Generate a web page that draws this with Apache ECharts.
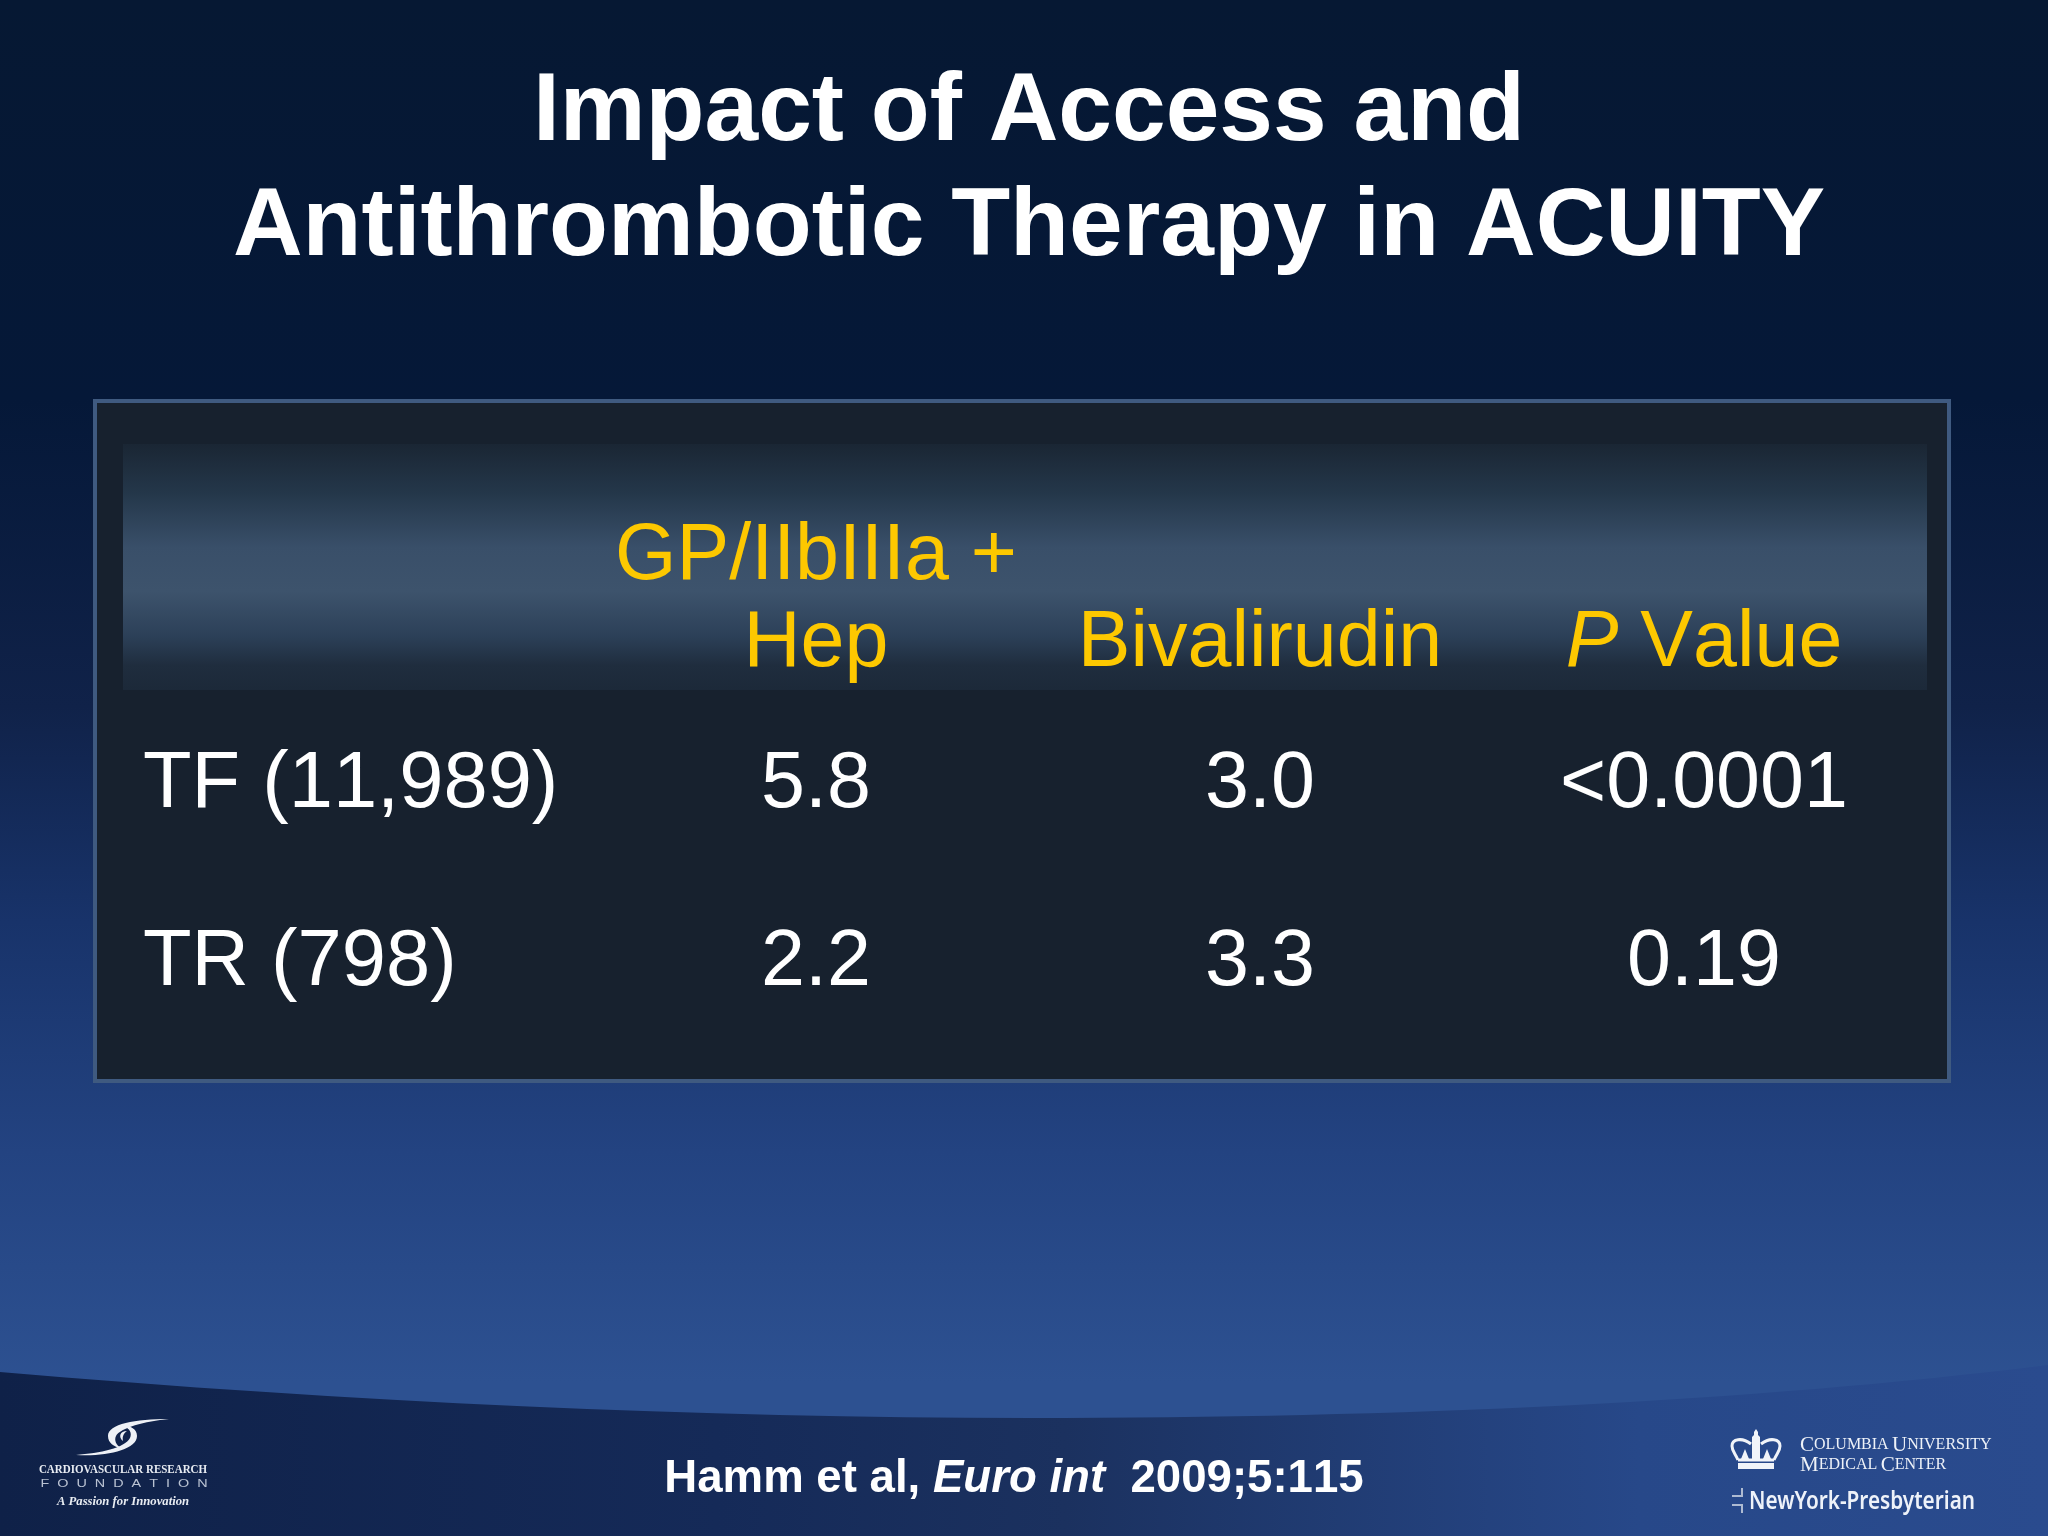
<!DOCTYPE html>
<html>
<head>
<meta charset="utf-8">
<script src="https://cdn.jsdelivr.net/npm/echarts@6/dist/echarts.min.js"></script>
<style>html,body{margin:0;padding:0;background:#061833}#chart{width:2048px;height:1536px}</style>
</head>
<body>
<div id="chart"></div>
<script>
// table contents
const titleText = 'Impact of Access and\nAntithrombotic Therapy in ACUITY';
const columns = ['GP/IIbIIIa +\nHep', 'Bivalirudin', '{i|P} {n|V}{n|alue}'];
const rows = ['TR (798)', 'TF (11,989)'];
const gpHep = ['2.2', '5.8'];
const bivalirudin = ['3.3', '3.0'];
const pValue = ['0.19', '<0.0001'];

const SANS = '"Liberation Sans", Arial, sans-serif';
const SERIF = '"Liberation Serif", serif';
const YELLOW = '#fdc800';
const lin = (stops, x2 = 0, y2 = 1) => new echarts.graphic.LinearGradient(0, 0, x2, y2,
  stops.map(([offset, color]) => ({ offset, color })));

const cellData = [gpHep, bivalirudin, pValue].flatMap((col, x) => col.map((v, y) => [x, y, v]));

// the graphic component has no path type, so register each outline as a shape
let shapeCount = 0;
const pathEl = (d, style, z = 5) => {
  const name = 'decor' + shapeCount++;
  echarts.graphic.registerShape(name, echarts.graphic.extendPath(d, {}));
  return { type: name, silent: true, z, style };
};

const smallCaps = (x, y, parts) => ({
  type: 'text', silent: true, z: 5,
  style: {
    x, y, fill: '#eef2f8', textVerticalAlign: 'middle',
    text: parts,
    rich: {
      c: { font: '21px ' + SERIF, fill: '#eef2f8' },
      s: { font: '16px ' + SERIF, fill: '#eef2f8' }
    }
  }
});
const logoText = (text, x, y, font, fill = '#e8ecf2', align = 'center', scaleX = 1) => ({
  type: 'text', silent: true, z: 5, x, y, scaleX,
  style: { text, x: 0, y: 0, font, fill, textAlign: align, textVerticalAlign: 'middle' }
});

const chart = echarts.init(document.getElementById('chart'), null, { renderer: 'canvas' });
chart.setOption({
  animation: false,
  backgroundColor: lin([[0, '#061833'], [0.26, '#051838'], [0.46, '#102249'], [0.6, '#18336a'], [0.75, '#234381'], [0.9, '#2d5191'], [1, '#2d5191']]),
  title: {
    text: titleText, left: 1024, top: 51, textAlign: 'center',
    textStyle: { color: '#fff', fontFamily: SANS, fontWeight: 'bold', fontSize: 96.5, lineHeight: 115 }
  },
  grid: { left: 594, width: 1332, top: 696, height: 356 },
  xAxis: {
    type: 'category', position: 'top', data: columns,
    axisLine: { show: false }, axisTick: { show: false }, splitLine: { show: false },
    axisLabel: {
      color: YELLOW, fontFamily: SANS, fontSize: 79, lineHeight: 87, margin: 8, interval: 0,
      rich: {
        i: { fontStyle: 'italic', color: YELLOW, fontFamily: SANS, fontSize: 79 },
        n: { color: YELLOW, fontFamily: SANS, fontSize: 79 }
      }
    }
  },
  yAxis: {
    type: 'category', data: rows,
    axisLine: { show: false }, axisTick: { show: false }, splitLine: { show: false },
    axisLabel: {
      color: '#fff', fontFamily: SANS, fontSize: 79.5, align: 'left', margin: 451,
      // the reference does not kern the two ones
      formatter: (v) => '{n|' + v.replace('11', '1}{n|1') + '}',
      rich: { n: { color: '#fff', fontFamily: SANS, fontSize: 79.5 } }
    }
  },
  series: [{
    type: 'scatter', data: cellData, symbolSize: 0, z: 10,
    encode: { x: 0, y: 1 },
    itemStyle: { opacity: 1 },
    label: {
      show: true, position: 'inside', color: '#fff', fontFamily: SANS, fontSize: 79,
      formatter: (p) => p.value[2]
    }
  }],
  graphic: [
    // lower band
    pathEl('M0 1372 C350 1402 700 1418 1030 1418 C1400 1418 1750 1402 2048 1365 L2048 1536 L0 1536 Z',
      { fill: lin([[0, '#0f2148'], [0.35, '#152a58'], [0.52, '#1b315f'], [0.8, '#274889'], [1, '#2a4b8e']], 1, 0) }, -10),
    // panel
    { type: 'rect', silent: true, z: -9, shape: { x: 95, y: 401, width: 1854, height: 680 },
      style: { fill: '#17212e', stroke: '#3f5a80', lineWidth: 4 } },
    { type: 'rect', silent: true, z: -8, shape: { x: 123, y: 444, width: 1804, height: 246 },
      style: { fill: lin([[0, '#1a2634'], [0.2, '#24374a'], [0.42, '#394f69'], [0.6, '#3d536c'], [0.78, '#2c4058'], [0.9, '#1f2d3e'], [1, '#1c2939']]) } },
    // footer citation
    { type: 'text', silent: true, z: 5,
      style: {
        x: 1014, y: 1479, textAlign: 'center', textVerticalAlign: 'middle', fill: '#fff',
        text: '{b|Hamm et al, }{i|Euro int}{b|  2009;5:1}{b|15}',
        rich: {
          b: { font: 'bold 45.6px ' + SANS, fill: '#fff' },
          i: { font: 'italic bold 45.6px ' + SANS, fill: '#fff' }
        }
      } },
    // CRF logo
    pathEl('M169 1419 C135 1419 108 1424 108 1436 C108 1443 114 1447 121 1448 C116 1445 114 1440 116 1436 C120 1428 145 1421 169 1419 Z', { fill: '#eef1f6' }),
    pathEl('M76 1455 C105 1457 137 1450 137 1436 C137 1429 131 1426 124 1426 C130 1429 132 1433 130 1438 C125 1448 100 1453 76 1455 Z', { fill: '#eef1f6' }),
    pathEl('M127 1431 C120 1431 118 1437 123 1441 C122 1436 124 1433 127 1431 Z', { fill: '#eef1f6' }),
    logoText('CARDIOVASCULAR RESEARCH', 123, 1470, 'bold 12.5px ' + SERIF, '#e8ecf2', 'center', 0.88),
    logoText('F  O  U  N  D  A  T  I  O  N', 124, 1484, '10.5px ' + SANS, '#b9c2d2', 'center', 1.37),
    logoText('A Passion for Innovation', 123, 1502, 'italic bold 12.7px ' + SERIF),
    // Columbia logo
    pathEl('M1738 1460 C1735 1453 1732 1451 1732 1446 C1732 1439 1742 1437 1751 1444 M1774 1460 C1777 1453 1780 1451 1780 1446 C1780 1439 1770 1437 1761 1444 M1738 1460 L1774 1460',
      { fill: 'none', stroke: '#f1f4f9', lineWidth: 3 }),
    pathEl('M1752 1460 L1752 1437 L1754 1435 L1754 1432 L1756 1429 L1758 1432 L1758 1435 L1760 1437 L1760 1460 Z', { fill: '#f1f4f9' }),
    pathEl('M1745 1449 L1749 1459 L1741 1459 Z', { fill: '#f1f4f9' }),
    pathEl('M1767 1449 L1771 1459 L1763 1459 Z', { fill: '#f1f4f9' }),
    { type: 'rect', silent: true, z: 5, shape: { x: 1738, y: 1463, width: 36, height: 6 }, style: { fill: '#f1f4f9' } },
    smallCaps(1800, 1445, '{c|C}{s|OLUMBIA} {c|U}{s|NIVERSITY}'),
    smallCaps(1800, 1465, '{c|M}{s|EDICAL} {c|C}{s|ENTER}'),
    logoText('NewYork-Presbyterian', 1749, 1502, '600 25px "Noto Sans", sans-serif', '#eef2f9', 'left', 0.83),
    pathEl('M1742 1488 L1742 1496 L1732 1496 M1732 1505 L1742 1505 L1742 1513', { fill: 'none', stroke: '#aebbd2', lineWidth: 2 })
  ]
});
</script>
</body>
</html>
